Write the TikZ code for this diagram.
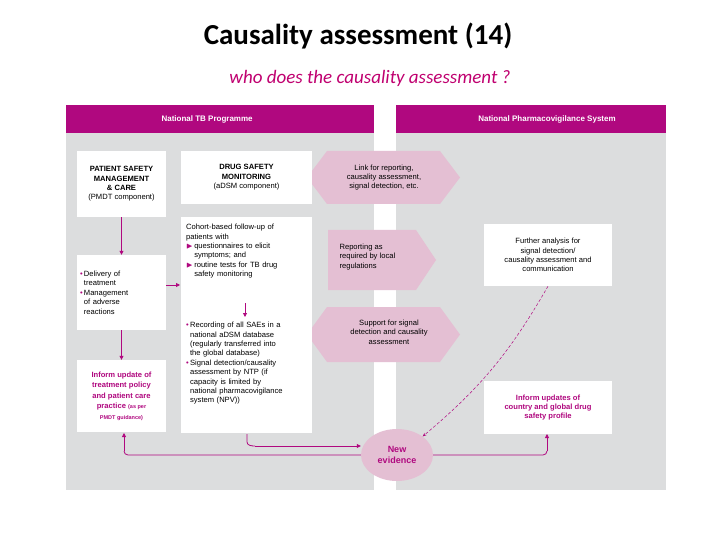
\documentclass[tikz,border=0pt]{standalone}
\usepackage{amssymb}
\usepackage{fontspec}
\setmainfont{Carlito}
\newfontfamily\diag{Liberation Sans}
\usetikzlibrary{shapes.geometric,arrows.meta}
\definecolor{mag}{HTML}{B0087F}
\definecolor{panel}{HTML}{DCDDDE}
\definecolor{hexc}{HTML}{E4BFD3}
\definecolor{sub}{HTML}{C00070}
\begin{document}
\begin{tikzpicture}[x=1pt,y=-1pt,
  wbox/.style={fill=white,draw=none,align=center,font=\diag\fontsize{7.6}{9.4}\selectfont,inner sep=2pt},
  hx/.style={font=\diag\fontsize{7.6}{9.4}\selectfont},
  arr/.style={draw=mag,line width=0.8pt,-{Triangle[length=4pt,width=4pt]}},
  ln/.style={draw=mag,line width=0.8pt}]
\useasboundingbox (0,0) rectangle (720,540);
\fill[white] (0,0) rectangle (720,540);
\node[font=\bfseries\fontsize{29}{32}\selectfont] (title) at (358,36) {Causality assessment (14)};
\node[font=\fontsize{19}{22}\selectfont\itshape,text=sub] (subt) at (370,78) {who does the causality assessment ?};
% panels
\fill[panel] (66,133) rectangle (374,490);
\fill[panel] (396,133) rectangle (666,490);
\fill[mag] (66,105) rectangle (374,133);
\fill[mag] (396,105) rectangle (666,133);
\node[text=white,font=\diag\bfseries\fontsize{8}{9}\selectfont,anchor=west] (h1) at (158,119) {National TB Programme};
\node[text=white,font=\diag\bfseries\fontsize{8}{9}\selectfont] (h2) at (547,119) {National Pharmacovigilance System};
% hexagons
\fill[hexc] (307,177.5) -- (327,151) -- (440,151) -- (460,177.5) -- (440,204) -- (327,204) -- cycle;
\node[hx,align=center] (hx1) at (384,177.5) {Link for reporting,\\causality assessment,\\signal detection, etc.};
\fill[hexc] (328,230) -- (416,230) -- (436,260) -- (416,290) -- (328,290) -- cycle;
\node[hx,align=left,anchor=west] (hx2) at (336,257) {Reporting as\\required by local\\regulations};
\fill[hexc] (307,334.5) -- (327,307) -- (440,307) -- (460,334.5) -- (440,362) -- (327,362) -- cycle;
\node[hx,align=center] (hx3) at (389,332) {Support for signal\\detection and causality\\assessment};
% boxes
\node[wbox,minimum width=89pt,minimum height=66pt] (psm) at (121.5,184) {\textbf{PATIENT SAFETY}\\\textbf{MANAGEMENT}\\\textbf{\& CARE}\\(PMDT component)};
\node[wbox,minimum width=131pt,minimum height=53pt] (dsm) at (246.5,177.5) {\textbf{DRUG SAFETY}\\\textbf{MONITORING}\\(aDSM component)};
\fill[white] (181,217) rectangle (312,433);
\node[wbox,fill=none,align=left,anchor=north west,text width=127pt] (coh) at (184,222) {Cohort-based follow-up of\\patients with\\{\color{mag}$\blacktriangleright$}\,questionnaires to elicit\\\phantom{$\blacktriangleright$}\,symptoms; and\\{\color{mag}$\blacktriangleright$}\,routine tests for TB drug\\\phantom{$\blacktriangleright$}\,safety monitoring};
\node[wbox,fill=none,align=left,anchor=north west,text width=127pt] (coh2) at (184,320) {{\color{mag}\textbullet}\,Recording of all SAEs in a\\\phantom{\textbullet}\,national aDSM database\\\phantom{\textbullet}\,(regularly transferred into\\\phantom{\textbullet}\,the global database)\\{\color{mag}\textbullet}\,Signal detection/causality\\\phantom{\textbullet}\,assessment by NTP (if\\\phantom{\textbullet}\,capacity is limited by\\\phantom{\textbullet}\,national pharmacovigilance\\\phantom{\textbullet}\,system (NPV))};
\node[wbox,minimum width=89pt,minimum height=75pt,align=left,text width=83pt] (del) at (121.5,292.5) {{\color{mag}\textbullet}\,Delivery of\\\phantom{\textbullet}\,treatment\\{\color{mag}\textbullet}\,Management\\\phantom{\textbullet}\,of adverse\\\phantom{\textbullet}\,reactions};
\node[wbox,minimum width=89pt,minimum height=72pt,text=mag,font=\diag\bfseries\fontsize{7.6}{10.5}\selectfont] (inf) at (121.5,396) {Inform update of\\treatment policy\\and patient care\\practice {\fontsize{5.5}{6}\selectfont(as per}\\{\fontsize{5.5}{6}\selectfont PMDT guidance)}};
\node[wbox,minimum width=128pt,minimum height=62pt] (fur) at (548,255) {Further analysis for\\signal detection/\\causality assessment and\\communication};
\node[wbox,minimum width=128pt,minimum height=53pt,text=mag,font=\diag\bfseries\fontsize{7.6}{9.4}\selectfont] (cty) at (548,407.5) {Inform updates of\\country and global drug\\safety profile};
\node[ellipse,fill=hexc,minimum width=72pt,minimum height=52pt,text=mag,font=\diag\bfseries\fontsize{9}{11}\selectfont,align=center] (new) at (397,455) {New\\evidence};
% arrows
\draw[arr] (psm.south) -- (del.north);
\draw[arr] (del.south) -- (inf.north);
\coordinate (d1) at (166,285);
\coordinate (d2) at (180,285);
\draw[arr] (d1) -- (d2);
\coordinate (c1) at (245,303);
\coordinate (c2) at (245,317);
\draw[arr] (c1) -- (c2);
\coordinate (b1) at (247,434);
\coordinate (b2) at (255,446);
\draw[ln] (b1) -- (247,442) to[out=-90,in=180] (b2);
\draw[arr] (b2) -- (new.west |- b2);
\draw[ln] (new.west) -- (128,455) to[out=180,in=-90] (124,451);
\draw[arr] (124,451) -- (124,433);
\draw[ln] (new.east) -- (543,455) to[out=0,in=-90] (547,451);
\draw[arr] (547,451) -- (547,434);
\draw[mag,densely dashed,line width=0.5pt,-{Stealth[length=4pt]}] (fur.south) to[out=-120,in=40] (new.north east);
\end{tikzpicture}
\end{document}
